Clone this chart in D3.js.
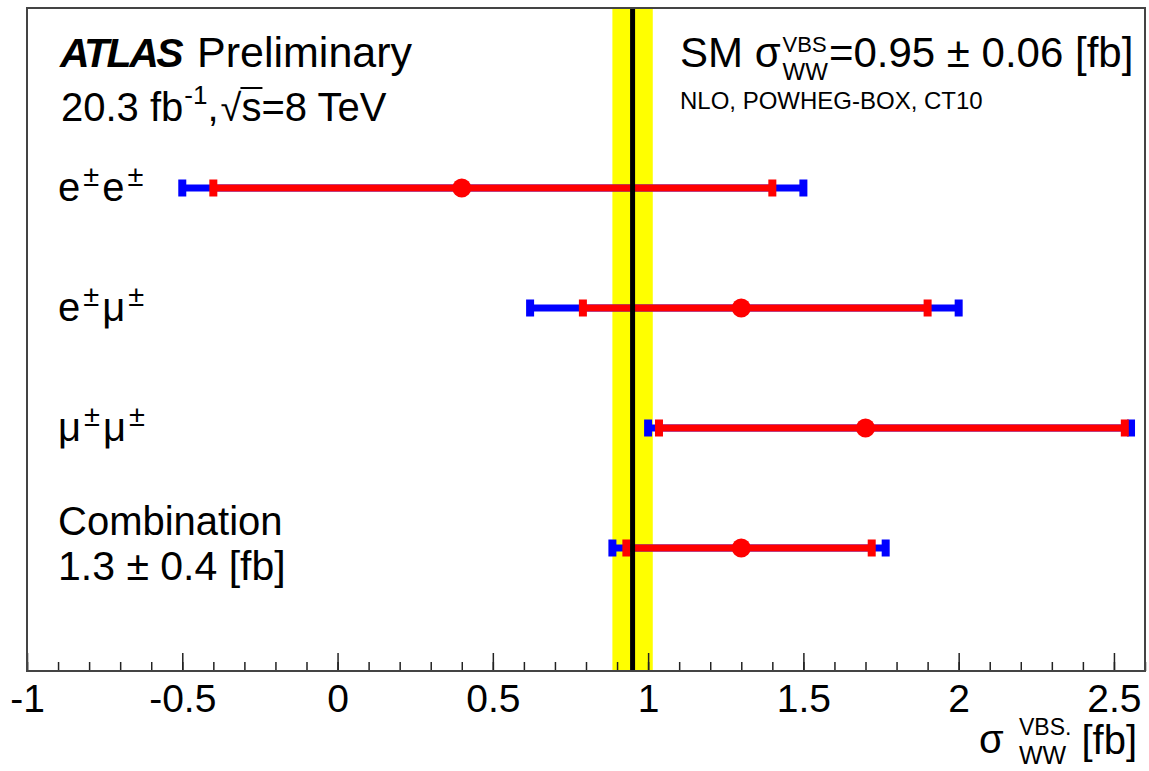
<!DOCTYPE html>
<html>
<head>
<meta charset="utf-8">
<script src="https://cdn.jsdelivr.net/npm/d3@7"></script>
<style>
  body { margin: 0; background: #fff; }
  text { font-family: "Liberation Sans", Arial, Helvetica, sans-serif; fill: #000; }
</style>
</head>
<body>
<script>
// measurements per channel (fb)
const channels = ["ee", "em", "mm", "comb"];
const central = [0.4, 1.3, 1.7, 1.3];
const statLo = [-0.4, 0.79, 1.035, 0.93];   // red bars
const statHi = [1.4, 1.9, 2.535, 1.72];
const totLo = [-0.5, 0.62, 1.0, 0.885];     // blue bars
const totHi = [1.5, 2.0, 2.555, 1.765];

// SM prediction
const smValue = 0.95;
const smError = 0.065;

const majorTicks = [-1, -0.5, 0, 0.5, 1, 1.5, 2, 2.5];

// frame
const frameL = 27, frameR = 1145, frameT = 8, frameB = 671;

const svg = d3.select("body")
    .append("svg")
    .attr("width", 1149)
    .attr("height", 771);

const x = d3.scaleLinear()
    .domain([-1, 2.6])
    .range([frameL, frameR]);

// rows sit at fixed vertical slots
const y = d3.scalePoint()
    .domain(channels)
    .range([188, 548]);

// SM band
svg.append("rect")
    .attr("x", x(smValue - smError))
    .attr("y", frameT)
    .attr("width", x(smValue + smError) - x(smValue - smError))
    .attr("height", frameB - frameT)
    .attr("fill", "#ffff00");

// total (blue) then stat (red) error bars
const rows = channels.map((c, i) => ({
    c, v: central[i], sLo: statLo[i], sHi: statHi[i], tLo: totLo[i], tHi: totHi[i]
}));

const barH = 7, capW = 8, capH = 17;

function drawBars(lo, hi, color) {
    svg.selectAll(null)
        .data(rows)
        .enter()
        .append("rect")
        .attr("x", d => x(d[lo]))
        .attr("y", d => y(d.c) - barH / 2)
        .attr("width", d => x(d[hi]) - x(d[lo]))
        .attr("height", barH)
        .attr("fill", color);
    [lo, hi].forEach(k => {
        svg.selectAll(null)
            .data(rows)
            .enter()
            .append("rect")
            .attr("x", d => x(d[k]) - capW / 2)
            .attr("y", d => y(d.c) - capH / 2)
            .attr("width", capW)
            .attr("height", capH)
            .attr("fill", color);
    });
}
drawBars("tLo", "tHi", "#0000ff");
drawBars("sLo", "sHi", "#ff0000");

svg.selectAll("circle.pt")
    .data(rows)
    .enter()
    .append("circle")
    .attr("class", "pt")
    .attr("cx", d => x(d.v))
    .attr("cy", d => y(d.c))
    .attr("r", 9.5)
    .attr("fill", "#ff0000");

// SM central line
svg.append("line")
    .attr("x1", x(smValue)).attr("x2", x(smValue))
    .attr("y1", frameT).attr("y2", frameB)
    .attr("stroke", "#000")
    .attr("stroke-width", 5);

// axis ticks (inside the frame)
const minorTicks = d3.range(-10, 27).map(i => i / 10);
svg.append("g")
    .attr("transform", "translate(0," + frameB + ")")
    .call(d3.axisBottom(x).tickValues(minorTicks).tickSize(-9).tickSizeOuter(0).tickFormat(""))
    .call(g => g.select(".domain").remove())
    .selectAll("line").attr("stroke", "#222").attr("stroke-width", 1.5);

const ax = svg.append("g")
    .attr("transform", "translate(0," + frameB + ")")
    .call(d3.axisBottom(x).tickValues(majorTicks).tickSize(-18).tickSizeOuter(0)
        .tickPadding(13).tickFormat(d => String(d)));
ax.select(".domain").remove();
ax.selectAll("line").attr("stroke", "#222").attr("stroke-width", 1.5);
ax.selectAll("text")
    .style("font-size", "39px")
    .attr("fill", "#000")
    .style("font-family", "'Liberation Sans', Arial, sans-serif");

// frame
svg.append("rect")
    .attr("x", frameL).attr("y", frameT)
    .attr("width", frameR - frameL).attr("height", frameB - frameT)
    .attr("fill", "none")
    .attr("stroke", "#444")
    .attr("stroke-width", 2);

// text helper: place a piece, return the x where it ends
function piece(px, py, str, size, style) {
    const t = svg.append("text")
        .attr("x", px).attr("y", py)
        .style("font-size", size + "px")
        .text(str);
    if (style) {
        t.style("font-weight", style.weight || null)
         .style("font-style", style.italic ? "italic" : null)
         .style("letter-spacing", style.spacing || null);
    }
    return px + t.node().getComputedTextLength();
}

// ATLAS label
let cx = piece(60, 67, "ATLAS", 41, { weight: "bold", italic: true, spacing: "-2.5px" });
piece(197, 67, "Preliminary", 43);

cx = piece(61, 121, "20.3 fb", 40);
cx = piece(cx + 1, 104, "-1", 26);
cx = piece(cx, 121, ",", 40);
cx = piece(cx + 2, 121, "√", 38);
const sx = cx;
cx = piece(cx, 121, "s", 40);
svg.append("line")
    .attr("x1", sx - 1).attr("x2", cx + 1)
    .attr("y1", 88).attr("y2", 88)
    .attr("stroke", "#000").attr("stroke-width", 2);
cx = piece(cx, 121, "=8 TeV", 40);

// SM label
cx = piece(680, 67, "SM σ", 42);
let a = piece(cx + 2, 52, "VBS", 22);
let b = piece(cx + 2, 80, "WW", 24);
piece(Math.max(a, b) + 1, 67, "=0.95 ± 0.06 [fb]", 42);
piece(680, 109, "NLO, POWHEG-BOX, CT10", 24);

// channel labels
const labelParts = [
    ["e", "±", "e", "±"],
    ["e", "±", "μ", "±"],
    ["μ", "±", "μ", "±"]
];
labelParts.forEach((parts, i) => {
    let px = 58;
    const base = y(channels[i]) + 13;
    parts.forEach((p, j) => {
        px = j % 2 === 0 ? piece(px, base, p, 40) + 3 : piece(px, base - 15, p, 29) + 3;
    });
});
piece(58, 535, "Combination", 40);
piece(58, 580, "1.3 ± 0.4 [fb]", 41);

// x axis title
cx = piece(979, 753, "σ", 40);
a = piece(1019, 735, "VBS.", 23);
b = piece(1019, 764, "WW", 25);
piece(Math.max(a, b) + 10, 754, "[fb]", 40);
</script>
</body>
</html>
